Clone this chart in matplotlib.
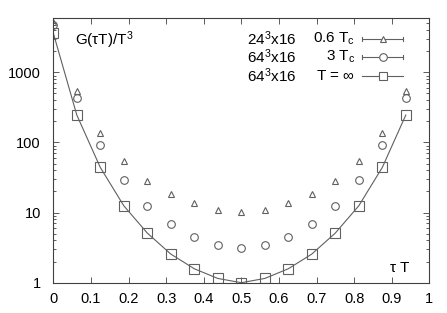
import numpy as np
import matplotlib.pyplot as plt
from matplotlib.ticker import FixedLocator, NullFormatter, MultipleLocator

plt.rcParams['font.family'] = ['Liberation Sans', 'DejaVu Sans']
plt.rcParams['mathtext.fontset'] = 'custom'
plt.rcParams['mathtext.rm'] = 'Liberation Sans'
plt.rcParams['mathtext.it'] = 'Liberation Sans'

# tau*T points (Nt = 16)
tau = [0, 1/16, 2/16, 3/16, 4/16, 5/16, 6/16, 7/16, 8/16,
       9/16, 10/16, 11/16, 12/16, 13/16, 14/16, 15/16]

# 24^3x16, 0.6 Tc
g_06 = [5200, 548, 136, 53.5, 28.4, 18.5, 13.7, 11.0, 10.3,
        11.0, 13.7, 18.5, 28.4, 53.5, 136, 548]
# 64^3x16, 3 Tc
g_3 = [4730, 427, 92, 29.3, 12.5, 6.9, 4.48, 3.4, 3.08,
       3.4, 4.48, 6.9, 12.5, 29.3, 92, 427]
# 64^3x16, T = infinity
g_inf = [3630, 246, 44, 12.5, 5.1, 2.56, 1.58, 1.15, 1.0,
         1.15, 1.58, 2.56, 5.1, 12.5, 44, 246]

grey = '#606060'
fig = plt.figure(figsize=(4.47, 3.13), dpi=100)
ax = fig.add_axes([53.3/447, 1 - 282.7/313, (429.3 - 53.3)/447, (282.7 - 18)/313])

ax.plot(tau, g_inf, '-', color=grey, lw=0.8)
ax.plot(tau, g_inf, 's', mfc='none', mec=grey, ms=6.5, mew=0.8)
ax.plot(tau, g_3, 'o', mfc='none', mec=grey, ms=5.5, mew=0.8)
ax.plot(tau, g_06, '^', mfc='none', mec=grey, ms=5.0, mew=0.8)

ax.set_yscale('log')
ax.set_xlim(0, 1)
ax.set_ylim(1, 5950)
ax.xaxis.set_major_locator(MultipleLocator(0.1))
ax.xaxis.set_major_formatter(plt.FuncFormatter(lambda v, p: '%g' % round(v, 2)))
ax.yaxis.set_major_locator(FixedLocator([1, 10, 100, 1000]))
ax.yaxis.set_major_formatter(plt.FuncFormatter(lambda v, p: '%d' % v))
ax.yaxis.set_minor_formatter(NullFormatter())
ax.tick_params(which='both', direction='in', top=True, right=True, labelsize=10.5, width=0.6, color='#404040')
ax.tick_params(which='major', length=4)
ax.tick_params(which='minor', length=2)
ax.tick_params(axis='y', pad=9)
ax.tick_params(axis='x', pad=7)
for s in ax.spines.values():
    s.set_linewidth(0.8)
    s.set_color('#404040')

ax.text(75/447, 1 - 40/313, r'G($\tau$T)/T$^3$', transform=fig.transFigure, fontsize=11, va='center')
ax.text(410/447, 1 - 268/313, r'$\tau$ T', transform=fig.transFigure, fontsize=11, va='center', ha='right')

# key, gnuplot style
rows = [('24$^3$x16', '0.6 T$_\\mathrm{c}$', '^', 39),
        ('64$^3$x16', '3 T$_\\mathrm{c}$', 'o', 57),
        ('64$^3$x16', 'T = $\\infty$', 's', 76)]
for lab1, lab2, mk, yp in rows:
    yf = 1 - yp/313
    fig.text(296/447, yf, lab1, ha='right', va='center', fontsize=11)
    fig.text(355/447, yf, lab2, ha='right', va='center', fontsize=11)
    x0, x1, xm = 362/447, 403/447, 383/447
    fig.add_artist(plt.Line2D([x0, x1], [yf, yf], color=grey, lw=0.8, transform=fig.transFigure))
    if mk != 's':
        for xc in (x0, x1):
            fig.add_artist(plt.Line2D([xc, xc], [yf - 2/313, yf + 2/313], color=grey, lw=0.8, transform=fig.transFigure))
    fig.add_artist(plt.Line2D([xm], [yf], marker=mk, mfc='white', mec=grey,
                              ms={'s': 6.0, 'o': 5.5, '^': 4.5}[mk], mew=0.8, transform=fig.transFigure))

fig.savefig('out.png', dpi=100)
